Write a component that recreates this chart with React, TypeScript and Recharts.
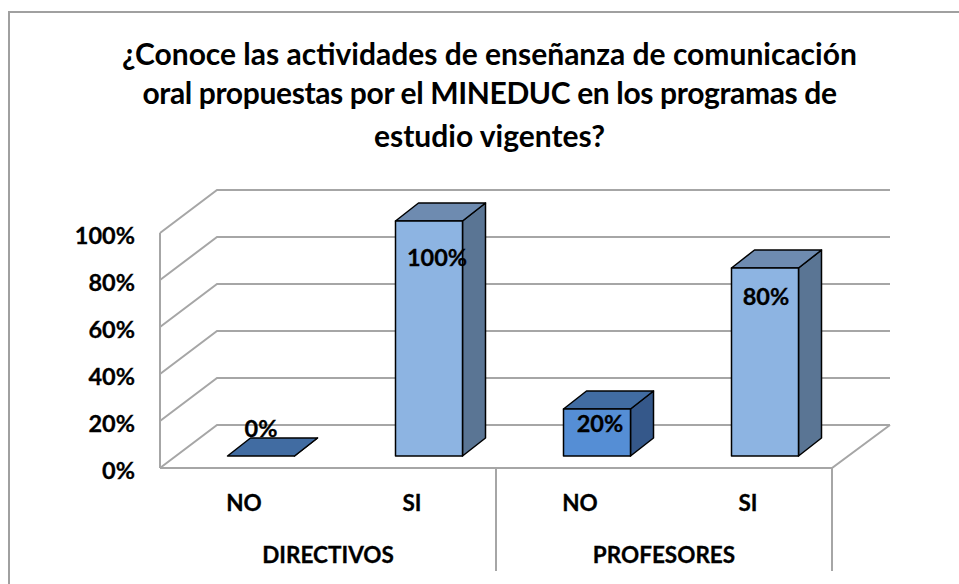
import { BarChart, Bar, XAxis, YAxis, CartesianGrid, LabelList } from 'recharts'

const categories = ['NO', 'SI', 'NO', 'SI']
const groups = ['DIRECTIVOS', 'DIRECTIVOS', 'PROFESORES', 'PROFESORES']
const values = [0, 100, 20, 80]
const yTicks = [0, 20, 40, 60, 80, 100]
const titleLines = [
  '¿Conoce las actividades de enseñanza de comunicación',
  'oral propuestas por el MINEDUC en los programas de',
  'estudio vigentes?',
]

const chartData = categories.map((category, i) => ({ category, group: groups[i], value: values[i] }))

const FONT = 'Lato, sans-serif'
const GRID = '#a6a6a6'
const BAR_SHIFT = 16.5
const DEPTH_X = 23
const DEPTH_Y = 18
const PLOT_H = 235
const BAND = 168

const colors: Record<string, { front: string; top: string; side: string }> = {
  NO: { front: '#558ed5', top: '#416ca2', side: '#35588a' },
  SI: { front: '#8db4e2', top: '#6e8bb0', side: '#5a7594' },
}

// data labels sit where they were dragged in the original sheet
const labelShift = [
  { dx: 0, dy: -27 },
  { dx: 8, dy: 37 },
  { dx: 3, dy: 15 },
  { dx: 1, dy: 29 },
]

const textStyle = { fontFamily: FONT, fontWeight: 700, fill: '#000', stroke: '#000', strokeWidth: 0.3 }

const Box3D = (props: any) => {
  const { x, y, width, height, index } = props
  const c = colors[categories[index]]
  const l = x + BAR_SHIFT
  const r = l + width
  const b = y + height
  const common = { stroke: '#000', strokeWidth: 1.5, strokeLinejoin: 'round' as const }
  return (
    <g>
      <polygon points={`${r},${y} ${r + DEPTH_X},${y - DEPTH_Y} ${r + DEPTH_X},${b - DEPTH_Y} ${r},${b}`} fill={c.side} {...common} />
      <polygon points={`${l},${y} ${l + DEPTH_X},${y - DEPTH_Y} ${r + DEPTH_X},${y - DEPTH_Y} ${r},${y}`} fill={c.top} {...common} />
      {height > 0 && <rect x={l} y={y} width={width} height={height} fill={c.front} {...common} />}
    </g>
  )
}

const BarLabel = (props: any) => {
  const { x, y, width, value, index } = props
  const s = labelShift[index]
  return (
    <text x={x + BAR_SHIFT + width / 2 + s.dx} y={y + s.dy} dy={8} textAnchor="middle" fontSize={23.5} {...textStyle}>
      {value}%
    </text>
  )
}

// gridline on the back wall, slanted down the side wall to the front
const WallLine = (props: any) => {
  const { x1, x2, y1, index } = props
  const front = y1 + 12
  const back = y1 - 31
  const isFloor = y1 > 440
  return (
    <g key={index} fill="none" stroke={GRID} strokeWidth={2}>
      <polyline points={`${x1},${front} ${x1 + 57},${back} ${x2 + 58},${back}`} />
      {isFloor && <polyline points={`${x1},${front} ${x2},${front} ${x2 + 58},${back}`} />}
      {y1 < 250 && <line x1={x1} y1={front} x2={x1} y2={front + PLOT_H} />}
    </g>
  )
}

const YTick = ({ x, y, payload }: any) => (
  <text x={x - 17} y={y + 14.5} dy={8} textAnchor="end" fontSize={23.5} {...textStyle}>
    {payload.value}%
  </text>
)

const CategoryTick = ({ x, y, payload }: any) => (
  <text x={x} y={y + 40} dy={7} textAnchor="middle" fontSize={22.5} {...textStyle}>
    {payload.value}
  </text>
)

const GroupTick = ({ x, y, payload, index }: any) => {
  const top = 468
  const bottom = 571
  return (
    <g>
      {index % 2 === 1 && (
        <line x1={x + BAND / 2} y1={top} x2={x + BAND / 2} y2={bottom} stroke={GRID} strokeWidth={2} />
      )}
      {index % 2 === 0 && (
        <text x={x + BAND / 2} y={y + 42} dy={7} textAnchor="middle" fontSize={22.5} {...textStyle}>
          {payload.value}
        </text>
      )}
    </g>
  )
}

export default function App() {
  return (
    <div style={{ position: 'absolute', left: 0, top: 0, width: 959, height: 584, overflow: 'hidden', background: '#fff' }}>
      <div style={{ position: 'absolute', left: 8, top: 11, width: 1000, height: 600, border: '2px solid #a0a0a0' }} />
      <div style={{ position: 'absolute', left: 0, top: 33, width: 979, textAlign: 'center', fontFamily: FONT, fontWeight: 700, fontSize: 30, lineHeight: '41px', color: '#000' }}>
        {titleLines.map((line, i) => (
          <div key={line} style={i === 1 ? { letterSpacing: -0.36, position: 'relative', top: -2 } : undefined}>{line}</div>
        ))}
      </div>
      <BarChart
        width={959}
        height={584}
        data={chartData}
        barSize={67}
        margin={{ top: 221, bottom: 28, left: 100, right: 127 }}
        style={{ position: 'absolute', left: 0, top: 0 }}
      >
        <CartesianGrid vertical={false} horizontal={WallLine} />
        <XAxis xAxisId="level1" dataKey="category" axisLine={false} tickLine={false} interval={0} height={50} tick={CategoryTick} />
        <XAxis xAxisId="level2" dataKey="group" axisLine={false} tickLine={false} interval={0} height={50} tick={GroupTick} />
        <YAxis width={60} domain={[0, 100]} ticks={yTicks} axisLine={false} tickLine={false} tick={YTick} />
        <Bar xAxisId="level1" dataKey="value" shape={Box3D} isAnimationActive={false}>
          <LabelList dataKey="value" content={BarLabel} />
        </Bar>
      </BarChart>
    </div>
  )
}
